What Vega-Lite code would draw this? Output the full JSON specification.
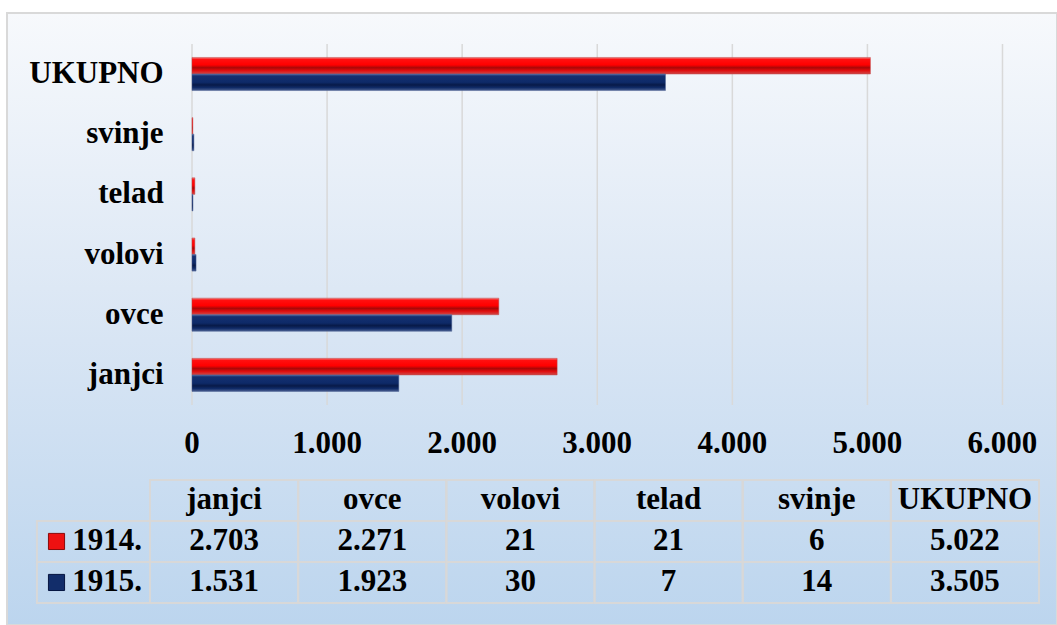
{
  "$schema": "https://vega.github.io/schema/vega-lite/v6.json",
  "autosize": {"type": "fit", "contains": "padding"},
  "width": 1057,
  "height": 625,
  "padding": {"left": 7, "top": 13, "right": 0, "bottom": 0},
  "background": "#ffffff",
  "config": {
    "locale": {"number": {"decimal": ",", "thousands": ".", "grouping": [3], "currency": ["", " €"]}},
    "view": {
      "stroke": "#d9d9d9",
      "strokeWidth": 2,
      "fill": {
        "gradient": "linear", "x1": 0, "y1": 0, "x2": 0, "y2": 1,
        "stops": [
          {"offset": 0, "color": "#f7f9fc"},
          {"offset": 0.45, "color": "#dde8f5"},
          {"offset": 1, "color": "#bcd5ee"}
        ]
      }
    },
    "text": {"font": "Liberation Serif", "fontWeight": "bold", "fontSize": 31, "color": "#000000"}
  },
  "datasets": {
    "main": [
      {"category": "janjci", "year": "1914.", "value": 2703},
      {"category": "janjci", "year": "1915.", "value": 1531},
      {"category": "ovce", "year": "1914.", "value": 2271},
      {"category": "ovce", "year": "1915.", "value": 1923},
      {"category": "volovi", "year": "1914.", "value": 21},
      {"category": "volovi", "year": "1915.", "value": 30},
      {"category": "telad", "year": "1914.", "value": 21},
      {"category": "telad", "year": "1915.", "value": 7},
      {"category": "svinje", "year": "1914.", "value": 6},
      {"category": "svinje", "year": "1915.", "value": 14},
      {"category": "UKUPNO", "year": "1914.", "value": 5022},
      {"category": "UKUPNO", "year": "1915.", "value": 3505}
    ],
    "ticks": [
      {"v": 0}, {"v": 1000}, {"v": 2000}, {"v": 3000}, {"v": 4000}, {"v": 5000}, {"v": 6000}
    ]
  },
  "resolve": {"scale": {"x": "independent", "y": "independent"}},
  "layer": [
    {
      "layer": [
        {
          "data": {"name": "ticks"},
          "mark": {"type": "rule", "color": "#d9d9d9", "strokeWidth": 1.5},
          "encoding": {
            "x": {"field": "v", "type": "quantitative", "axis": null,
                  "scale": {"domain": [-1369.5, 6403.5], "nice": false, "zero": false}},
            "y": {"datum": "UKUPNO", "type": "nominal", "bandPosition": -0.409, "axis": null,
                  "scale": {"type": "band", "domain": ["UKUPNO", "svinje", "telad", "volovi", "ovce", "janjci"], "paddingInner": 0.45, "paddingOuter": 0.225, "align": 0.5,
                            "range": [{"expr": "height*0.0505"}, {"expr": "height*0.6405"}]}},
            "y2": {"datum": "janjci", "bandPosition": 1.409}
          }
        },
        {
          "data": {"name": "main"},
          "transform": [{"filter": "datum.year === '1914.'"}],
          "mark": {
            "type": "bar", "stroke": "#c04040", "strokeWidth": 0.5,
            "fill": {
              "gradient": "linear", "x1": 0, "y1": 0, "x2": 0, "y2": 1,
              "stops": [
                {"offset": 0, "color": "#f08080"},
                {"offset": 0.12, "color": "#ff1010"},
                {"offset": 0.45, "color": "#ff0000"},
                {"offset": 0.62, "color": "#a80808"},
                {"offset": 0.78, "color": "#e00c0c"},
                {"offset": 1, "color": "#d04848"}
              ]
            }
          },
          "encoding": {
            "x": {"field": "value", "type": "quantitative", "axis": null},
            "y": {"field": "category", "type": "nominal", "axis": null},
            "yOffset": {"field": "year", "type": "nominal", "scale": {"domain": ["1914.", "1915."], "paddingInner": 0, "paddingOuter": 0}}
          }
        },
        {
          "data": {"name": "main"},
          "transform": [{"filter": "datum.year === '1915.'"}],
          "mark": {
            "type": "bar", "stroke": "#4a5f90", "strokeWidth": 0.5,
            "fill": {
              "gradient": "linear", "x1": 0, "y1": 0, "x2": 0, "y2": 1,
              "stops": [
                {"offset": 0, "color": "#5a72a8"},
                {"offset": 0.12, "color": "#143070"},
                {"offset": 0.5, "color": "#0e2a68"},
                {"offset": 0.66, "color": "#081a48"},
                {"offset": 0.82, "color": "#0f2a66"},
                {"offset": 1, "color": "#4a5f90"}
              ]
            }
          },
          "encoding": {
            "x": {"field": "value", "type": "quantitative", "axis": null},
            "y": {"field": "category", "type": "nominal", "axis": null},
            "yOffset": {"field": "year", "type": "nominal"}
          }
        },
        {
          "data": {"name": "main"},
          "transform": [{"filter": "datum.year === '1914.'"}],
          "mark": {"type": "text", "align": "right", "baseline": "middle"},
          "encoding": {
            "x": {"datum": -210, "type": "quantitative"},
            "y": {"field": "category", "type": "nominal", "bandPosition": 0.5},
            "text": {"field": "category"}
          }
        },
        {
          "data": {"name": "ticks"},
          "mark": {"type": "text", "align": "center", "baseline": "middle"},
          "encoding": {
            "x": {"field": "v", "type": "quantitative"},
            "y": {"datum": "janjci", "type": "nominal", "bandPosition": 2.575},
            "text": {"field": "v", "type": "quantitative", "format": ",d"}
          }
        }
      ]
    },
    {
      "layer": [
        {
          "data": {"name": "main"},
          "mark": {"type": "rect", "filled": false, "stroke": "#d8d8d8", "strokeWidth": 2},
          "encoding": {
            "x": {"field": "category", "type": "nominal", "axis": null,
                  "scale": {"type": "band", "domain": ["janjci", "ovce", "volovi", "telad", "svinje", "UKUPNO"], "paddingInner": 0, "paddingOuter": 0,
                            "range": [{"expr": "width*0.1362"}, {"expr": "width*0.9829"}]}},
            "y": {"field": "year", "type": "nominal", "axis": null,
                  "scale": {"type": "band", "domain": ["hdr", "1914.", "1915."], "paddingInner": 0, "paddingOuter": 0,
                            "range": [{"expr": "height*0.763"}, {"expr": "height*0.964"}]}}
          }
        },
        {
          "data": {"name": "main"},
          "transform": [{"filter": "datum.year === '1914.'"}],
          "mark": {"type": "rect", "filled": false, "stroke": "#d8d8d8", "strokeWidth": 2},
          "encoding": {
            "x": {"field": "category", "type": "nominal"},
            "y": {"datum": "hdr", "type": "nominal"}
          }
        },
        {
          "data": {"name": "main"},
          "transform": [{"filter": "datum.category === 'janjci'"}],
          "mark": {"type": "rect", "filled": false, "stroke": "#d8d8d8", "strokeWidth": 2},
          "encoding": {
            "x": {"datum": "janjci", "type": "nominal", "bandPosition": -0.763},
            "x2": {"datum": "janjci", "bandPosition": 0},
            "y": {"field": "year", "type": "nominal"}
          }
        },
        {
          "data": {"name": "main"},
          "mark": {"type": "text", "align": "center", "baseline": "middle"},
          "encoding": {
            "x": {"field": "category", "type": "nominal", "bandPosition": 0.5},
            "y": {"field": "year", "type": "nominal", "bandPosition": 0.5},
            "text": {"field": "value", "type": "quantitative", "format": ",d"}
          }
        },
        {
          "data": {"name": "main"},
          "transform": [{"filter": "datum.year === '1914.'"}],
          "mark": {"type": "text", "align": "center", "baseline": "middle"},
          "encoding": {
            "x": {"field": "category", "type": "nominal", "bandPosition": 0.5},
            "y": {"datum": "hdr", "type": "nominal", "bandPosition": 0.5},
            "text": {"field": "category"}
          }
        },
        {
          "data": {"name": "main"},
          "transform": [{"filter": "datum.category === 'janjci'"}],
          "mark": {"type": "text", "align": "center", "baseline": "middle"},
          "encoding": {
            "x": {"datum": "janjci", "type": "nominal", "bandPosition": -0.29},
            "y": {"field": "year", "type": "nominal", "bandPosition": 0.5},
            "text": {"field": "year"}
          }
        },
        {
          "data": {"name": "main"},
          "transform": [{"filter": "datum.category === 'janjci'"}],
          "mark": {"type": "point", "shape": "square", "filled": true, "size": 260, "opacity": 1, "strokeWidth": 1},
          "encoding": {
            "x": {"datum": "janjci", "type": "nominal", "bandPosition": -0.631},
            "y": {"field": "year", "type": "nominal", "bandPosition": 0.5},
            "fill": {"field": "year", "type": "nominal", "legend": null,
                     "scale": {"domain": ["1914.", "1915."], "range": ["#ee1111", "#122d6a"]}},
            "stroke": {"field": "year", "type": "nominal", "legend": null,
                     "scale": {"domain": ["1914.", "1915."], "range": ["#8a0a0a", "#061540"]}}
          }
        }
      ]
    }
  ]
}
